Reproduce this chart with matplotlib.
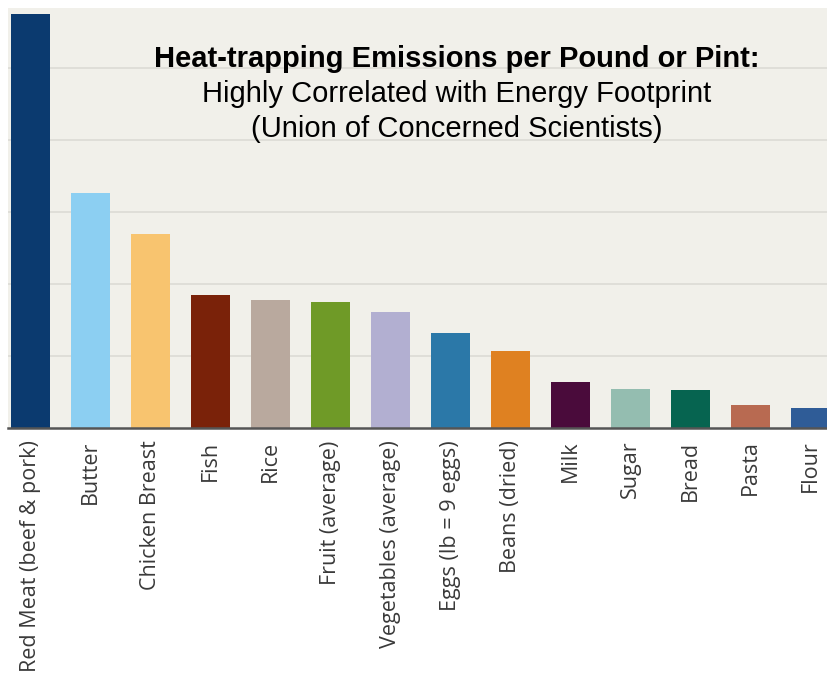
import numpy as np
import matplotlib.pyplot as plt

# food items and relative emissions (gridline = 1 unit)
foods = ["Red Meat (beef & pork)", "Butter", "Chicken Breast", "Fish", "Rice",
         "Fruit (average)", "Vegetables (average)", "Eggs (lb = 9 eggs)",
         "Beans (dried)", "Milk", "Sugar", "Bread", "Pasta", "Flour"]
emissions = [5.75, 3.26, 2.69, 1.85, 1.78, 1.75, 1.61, 1.32, 1.07,
             0.64, 0.54, 0.53, 0.32, 0.28]
colors = ["#0b3a6f", "#8ccff2", "#f8c46f", "#7a2209", "#b9a99e", "#6f9a27",
          "#b2afd1", "#2b78a8", "#df8121", "#4a0b3b", "#94bdb0", "#066450",
          "#b86a51", "#2f5c97"]
title_lines = ["Heat-trapping Emissions per Pound or Pint:",
               "Highly Correlated with Energy Footprint",
               "(Union of Concerned Scientists)"]

fig = plt.figure(figsize=(8.27, 6.8), dpi=100, facecolor="white")
ax = fig.add_axes([8/827, 252/680, 819/827, 420/680])
ax.set_facecolor("#f1f0ea")

x = np.arange(len(foods))
ax.bar(x, emissions, width=0.65, color=colors, zorder=3)

ax.set_xlim(-0.38, 13.27)
ax.set_ylim(0, 5.83)
ax.set_yticks([1, 2, 3, 4, 5])
ax.yaxis.grid(True, color="#dcdbd5", linewidth=1.2, zorder=0)
ax.tick_params(axis="y", left=False, labelleft=False)
ax.tick_params(axis="x", length=0, pad=9)
ax.set_xticks(x)
ax.set_xticklabels(foods, rotation=90, fontsize=15.5, family="Open Sans",
                   color="#3a3a3a", va="top")
for s in ["top", "right", "left"]:
    ax.spines[s].set_visible(False)
ax.spines["bottom"].set_color("#555555")
ax.spines["bottom"].set_linewidth(1.8)
ax.spines["bottom"].set_zorder(4)

# title block, baselines at about 67, 102, 137 px from the top
for i, (line, y) in enumerate(zip(title_lines, [67, 102, 137])):
    fig.text(457/827, 1 - y/680, line, ha="center", va="baseline",
             fontsize=21, fontweight="bold" if i == 0 else "normal",
             family="Liberation Sans", color="black", zorder=5)

plt.savefig("out.png", dpi=100, facecolor="white")
